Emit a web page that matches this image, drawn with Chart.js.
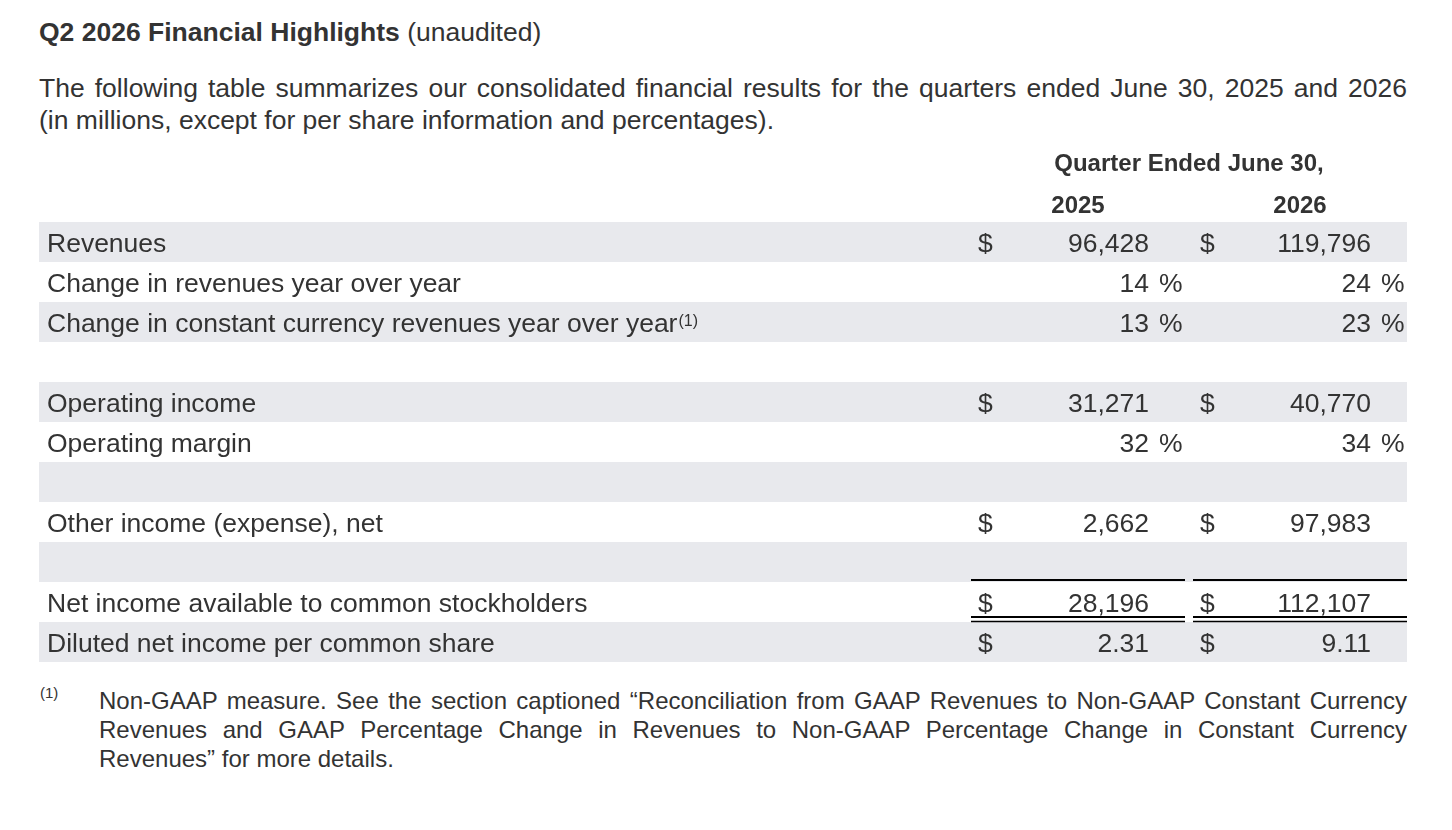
<!DOCTYPE html>
<html>
<head>
<meta charset="utf-8">
<title>Q2 2026 Financial Highlights</title>
<script src="https://cdn.jsdelivr.net/npm/chart.js@4/dist/chart.umd.min.js"></script>
<style>
  html, body { margin: 0; padding: 0; background: #fff; }
  body { width: 1452px; height: 830px; position: relative; overflow: hidden;
         font-family: "Liberation Sans", Arial, sans-serif; color: #333; }
  .title { position: absolute; left: 39px; top: 17px; font-size: 26.5px; line-height: 30px; white-space: nowrap; }
  .title b { font-weight: bold; }
  .intro { position: absolute; left: 39px; top: 72px; width: 1368px; font-size: 26.5px; line-height: 32px; }
  .just { text-align: justify; text-align-last: justify; }
  .note-mark { position: absolute; left: 40px; top: 684px; font-size: 15px; line-height: 18px; }
  .note { position: absolute; left: 99px; top: 686px; width: 1308px; font-size: 24px; line-height: 29px; }
  #wrap { position: absolute; left: 0; top: 140px; width: 1452px; height: 540px; }
</style>
</head>
<body>
<div class="title"><b>Q2 2026 Financial Highlights</b> (unaudited)</div>
<div class="intro">
  <div class="just">The following table summarizes our consolidated financial results for the quarters ended June 30, 2025 and 2026</div>
  <div>(in millions, except for per share information and percentages).</div>
</div>
<div id="wrap"><canvas id="table"></canvas></div>
<div class="note-mark">(1)</div>
<div class="note">
  <div class="just">Non-GAAP measure. See the section captioned “Reconciliation from GAAP Revenues to Non-GAAP Constant Currency</div>
  <div class="just">Revenues and GAAP Percentage Change in Revenues to Non-GAAP Percentage Change in Constant Currency</div>
  <div>Revenues” for more details.</div>
</div>
<script>
const HEADER_TITLE = "Quarter Ended June 30,";
const YEARS = ["2025", "2026"];
const ROW_LABELS = [
  "Revenues",
  "Change in revenues year over year",
  "Change in constant currency revenues year over year",
  "",
  "Operating income",
  "Operating margin",
  "",
  "Other income (expense), net",
  "",
  "Net income available to common stockholders",
  "Diluted net income per common share"
];
const ROW_NOTES = ["", "", "(1)", "", "", "", "", "", "", "", ""];
const ROW_FORMATS = ["usd", "pct", "pct", "", "usd", "pct", "", "usd", "", "usd", "eps"];
const VALUES_2025 = [96428, 14, 13, null, 31271, 32, null, 2662, null, 28196, 2.31];
const VALUES_2026 = [119796, 24, 23, null, 40770, 34, null, 97983, null, 112107, 9.11];
const SHADED_ROWS = [true, false, true, false, true, false, true, false, true, false, true];

const TABLE_WIDTH = 1368;
const BAND_COLOR = "#e8e9ed";
const TEXT_COLOR = "#333333";
const FONT = '"Liberation Sans", Arial, sans-serif';
const ROW_FONT = "26.5px " + FONT;
// column anchors, in x-scale units from the left edge of the table
const COLS = [
  { dollar: 939, num: 1110, pct: 1120, ruleFrom: 932, ruleTo: 1146 },
  { dollar: 1161, num: 1332, pct: 1342, ruleFrom: 1154, ruleTo: 1368 }
];

function formatValue(v, kind) {
  if (v === null) return "";
  if (kind === "usd") return v.toLocaleString("en-US");
  if (kind === "eps") return v.toFixed(2);
  return String(v);
}

const tableText = {
  id: "tableText",
  afterDatasetsDraw(chart) {
    const { ctx, chartArea, scales: { x, y } } = chart;
    const rowH = y.getPixelForValue(1) - y.getPixelForValue(0);
    ctx.save();
    ctx.fillStyle = TEXT_COLOR;
    ctx.textBaseline = "alphabetic";

    // column headers
    ctx.font = "bold 24px " + FONT;
    ctx.textAlign = "center";
    ctx.fillText(HEADER_TITLE, x.getPixelForValue(1150), chartArea.top - 51);
    ctx.fillText(YEARS[0], x.getPixelForValue(1039), chartArea.top - 9);
    ctx.fillText(YEARS[1], x.getPixelForValue(1261), chartArea.top - 9);

    const series = [VALUES_2025, VALUES_2026];
    ROW_LABELS.forEach((label, i) => {
      const base = y.getPixelForValue(i) + 9.5;
      ctx.font = ROW_FONT;
      ctx.textAlign = "left";
      ctx.fillText(label, x.getPixelForValue(8), base);
      if (ROW_NOTES[i]) {
        const w = ctx.measureText(label).width;
        ctx.font = "16px " + FONT;
        ctx.fillText(ROW_NOTES[i], x.getPixelForValue(8) + w + 1, base - 6);
        ctx.font = ROW_FONT;
      }
      const kind = ROW_FORMATS[i];
      series.forEach((vals, c) => {
        const v = vals[i];
        if (v === null) return;
        const col = COLS[c];
        if (kind === "usd" || kind === "eps") {
          ctx.textAlign = "left";
          ctx.fillText("$", x.getPixelForValue(col.dollar), base);
        }
        ctx.textAlign = "right";
        ctx.fillText(formatValue(v, kind), x.getPixelForValue(col.num), base);
        if (kind === "pct") {
          ctx.textAlign = "left";
          ctx.fillText("%", x.getPixelForValue(col.pct), base);
        }
      });
    });

    // totals rules: single above net income, double below it
    const netTop = y.getPixelForValue(9) - rowH / 2;
    const netBottom = y.getPixelForValue(9) + rowH / 2;
    ctx.strokeStyle = "#000";
    COLS.forEach(col => {
      const x0 = x.getPixelForValue(col.ruleFrom);
      const x1 = x.getPixelForValue(col.ruleTo);
      ctx.lineWidth = 2;
      ctx.beginPath(); ctx.moveTo(x0, netTop - 2); ctx.lineTo(x1, netTop - 2); ctx.stroke();
      ctx.beginPath(); ctx.moveTo(x0, netBottom - 5); ctx.lineTo(x1, netBottom - 5); ctx.stroke();
      ctx.lineWidth = 1.6;
      ctx.beginPath(); ctx.moveTo(x0, netBottom - 0.5); ctx.lineTo(x1, netBottom - 0.5); ctx.stroke();
    });
    ctx.restore();
  }
};

const ctx = document.getElementById("table").getContext("2d");
const tableChart = new Chart(ctx, {
  type: "bar",
  data: {
    labels: ROW_LABELS.map((l, i) => l || "blank " + i),
    datasets: [{
      label: "bands",
      data: SHADED_ROWS.map(s => (s ? TABLE_WIDTH : null)),
      backgroundColor: BAND_COLOR,
      borderWidth: 0,
      barPercentage: 1,
      categoryPercentage: 1,
      inflateAmount: 0
    }]
  },
  options: {
    indexAxis: "y",
    responsive: true,
    maintainAspectRatio: false,
    animation: false,
    layout: { padding: { left: 39, right: 45, top: 82, bottom: 18 } },
    plugins: {
      legend: { display: false },
      tooltip: { enabled: false }
    },
    scales: {
      x: { type: "linear", min: 0, max: TABLE_WIDTH, display: false },
      y: { type: "category", display: false, offset: true }
    }
  },
  plugins: [tableText]
});
</script>
</body>
</html>
